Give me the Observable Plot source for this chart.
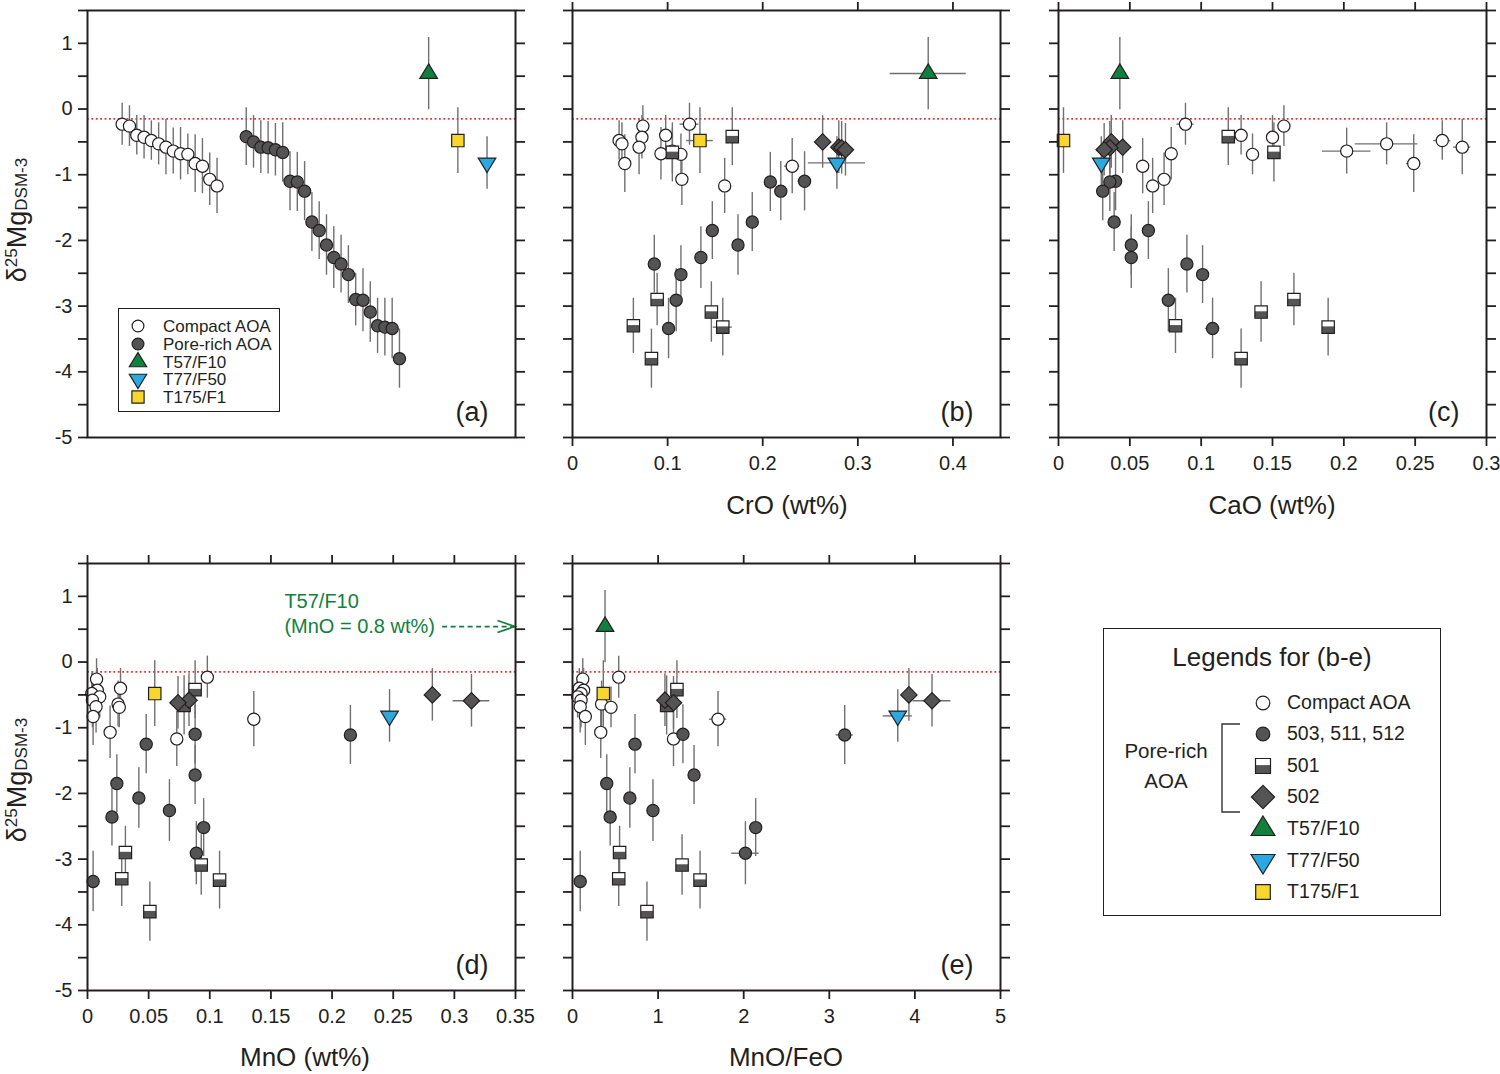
<!DOCTYPE html>
<html><head><meta charset="utf-8">
<script src="https://cdn.jsdelivr.net/npm/d3@7"></script>
<script src="https://cdn.jsdelivr.net/npm/@observablehq/plot@0.6"></script>
<style>
body{margin:0;background:#fff;font-family:"Liberation Sans",Arial,sans-serif;color:#231f20;}
#root{position:relative;width:1500px;height:1074px;overflow:hidden;background:#fff;}
.lab{position:absolute;white-space:nowrap;transform:translate(-50%,-50%);font-size:26px;line-height:1;}
.ylab{position:absolute;white-space:nowrap;transform:translate(-50%,-50%) rotate(-90deg);font-size:27px;line-height:1;}
.ylab sup{font-size:17px;vertical-align:0.55em;}
.ylab sub{font-size:17px;vertical-align:-0.05em;}
.box{position:absolute;border:1.5px solid #231f20;background:#fff;box-sizing:border-box;}
.row{position:absolute;white-space:nowrap;line-height:1;transform:translateY(-50%);}
.ico{position:absolute;overflow:visible;}
</style>
</head><body><div id="root"></div>
<script>
// ---------------- data ----------------
// columns: [δ25Mg, ±2SD, CrO, ±, CaO, ±, MnO, ±, MnO/FeO, ±]
const compactAOA = [
  [-0.23,0.32, 0.123,0.010, 0.089,0.006, 0.098,0, 0.54,0],
  [-0.26,0.31, 0.074,0,     0.158,0,     0.0074,0,0.12,0],
  [-0.40,0.30, 0.098,0,     0.128,0,     0.027,0, 0.08,0],
  [-0.43,0.33, 0.073,0,     0.150,0,     0.008,0, 0.13,0],
  [-0.48,0.30, 0.049,0,     0.269,0.006, 0.0035,0,0.10,0],
  [-0.53,0.32, 0.052,0,     0.230,0.022, 0.010,0, 0.06,0],
  [-0.58,0.42, 0.070,0,     0.283,0.006, 0.004,0, 0.10,0],
  [-0.64,0.35, 0.105,0,     0.202,0.017, 0.025,0, 0.34,0],
  [-0.68,0.40, 0.093,0,     0.079,0,     0.007,0, 0.09,0],
  [-0.69,0.31, 0.114,0,     0.136,0,     0.026,0, 0.45,0],
  [-0.83,0.44, 0.055,0,     0.249,0.005, 0.0046,0,0.15,0],
  [-0.87,0.42, 0.231,0.008, 0.059,0,     0.136,0, 1.70,0.10],
  [-1.07,0.40, 0.115,0,     0.074,0,     0.0185,0,0.33,0],
  [-1.17,0.42, 0.160,0,     0.066,0,     0.073,0, 1.18,0]
];
const poreRich503_511_512 = [
  [-1.10,0.45, 0.244,0.007, 0.040,0,     0.088,0, 1.29,0],
  [-1.11,0.45, 0.208,0,     0.036,0,     0.215,0, 3.18,0.10],
  [-1.25,0.45, 0.219,0,     0.031,0,     0.048,0, 0.73,0],
  [-1.72,0.45, 0.189,0,     0.039,0,     0.088,0, 1.42,0],
  [-1.85,0.44, 0.147,0,     0.063,0,     0.024,0, 0.40,0],
  [-2.07,0.46, 0.174,0,     0.051,0,     0.042,0, 0.67,0],
  [-2.26,0.47, 0.135,0,     0.051,0,     0.067,0, 0.94,0],
  [-2.36,0.44, 0.086,0,     0.090,0,     0.020,0, 0.44,0],
  [-2.52,0.44, 0.114,0,     0.101,0,     0.095,0, 2.14,0],
  [-2.91,0.48, 0.109,0,     0.077,0,     0.089,0, 2.02,0.16],
  [-3.34,0.46, 0.101,0,     0.108,0.005, 0.0046,0,0.09,0]
];
const poreRich501 = [
  [-0.42,0.44, 0.168,0,     0.119,0,     0.088,0, 1.22,0],
  [-0.66,0.45, 0.105,0.010, 0.151,0,     0.079,0, 1.10,0],
  [-2.90,0.40, 0.089,0,     0.165,0,     0.031,0, 0.55,0],
  [-3.09,0.46, 0.146,0,     0.142,0,     0.093,0, 1.28,0],
  [-3.30,0.42, 0.064,0,     0.082,0,     0.028,0, 0.54,0],
  [-3.32,0.44, 0.158,0.010, 0.189,0,     0.108,0, 1.49,0],
  [-3.80,0.45, 0.083,0,     0.128,0,     0.051,0, 0.87,0]
];
const poreRich502 = [
  [-0.50,0.40, 0.263,0,     0.037,0,     0.282,0,     3.93,0],
  [-0.58,0.40, 0.280,0,     0.045,0,     0.083,0,     1.08,0],
  [-0.59,0.40, 0.283,0,     0.036,0,     0.314,0.015, 4.20,0.22],
  [-0.62,0.40, 0.287,0,     0.032,0,     0.074,0,     1.18,0]
];
const T57F10  = [[0.54,0.55, 0.374,0.040, 0.043,0, 0.8,0,   0.38,0]];
const T77F50  = [[-0.82,0.40,0.278,0.030, 0.030,0, 0.247,0, 3.80,0.17]];
const T175F1  = [[-0.48,0.50,0.134,0.014, 0.0035,0,0.055,0, 0.36,0]];

const refValue = -0.15;                 // red dotted reference line
const yTicks = d3.range(-5, 1.51, 0.5);
const xTicksCrO = [0, 0.1, 0.2, 0.3, 0.4];
const xTicksCaO = [0, 0.05, 0.1, 0.15, 0.2, 0.25, 0.3];
const xTicksMnO = [0, 0.05, 0.1, 0.15, 0.2, 0.25, 0.3, 0.35];
const xTicksRatio = [0, 1, 2, 3, 4, 5];

// ---------------- helpers ----------------
const INK = "#231f20", DARK = "#545454", BAR = "#707070";
const GREEN = "#12803d", BLUE = "#2aa8e0", YELLOW = "#f9d62e";
const toRows = arr => arr.map(a => ({d:a[0], e:a[1], cr:a[2], crE:a[3], ca:a[4], caE:a[5], mn:a[6], mnE:a[7], rt:a[8], rtE:a[9]}));
const C = toRows(compactAOA), P = toRows(poreRich503_511_512), S = toRows(poreRich501), D = toRows(poreRich502);
const T1 = toRows(T57F10), T2 = toRows(T77F50), T3 = toRows(T175F1);

const shapes = {
  circle: (c, r) => { c.moveTo(r, 0); c.arc(0, 0, r, 0, 2 * Math.PI); c.closePath(); },
  square: (c, r) => { c.rect(-r, -r, 2 * r, 2 * r); },
  lowerHalf: (c, r) => { c.rect(-r, -0.12 * r, 2 * r, 1.12 * r); },
  diamond: (c, r) => { const s = 1.32 * r; c.moveTo(0, -s); c.lineTo(s, 0); c.lineTo(0, s); c.lineTo(-s, 0); c.closePath(); },
  triUp: (c, r) => { const w = 1.42 * r, h = 2.33 * r; c.moveTo(0, -2 * h / 3); c.lineTo(w, h / 3); c.lineTo(-w, h / 3); c.closePath(); },
  triDown: (c, r) => { const w = 1.42 * r, h = 2.33 * r; c.moveTo(0, 2 * h / 3); c.lineTo(w, -h / 3); c.lineTo(-w, -h / 3); c.closePath(); },
  chevron: (c, r) => { c.moveTo(-2.9 * r, -r); c.lineTo(0, 0); c.lineTo(-2.9 * r, r); }
};
const MR = 6.2;
const sym = {};
for (const [n, f] of Object.entries(shapes)) sym[n] = {draw(c) { f(c, n === "circle" ? 6.1 : MR); }};

function markers(data, kind, x) {
  const b = {x, y: "d", r: MR};
  const st = {stroke: INK, strokeWidth: 1.2};
  switch (kind) {
    case "compact": return [Plot.dot(data, {...b, symbol: sym.circle, fill: "white", ...st})];
    case "pore": return [Plot.dot(data, {...b, symbol: sym.circle, fill: DARK, ...st})];
    case "501": return [
      Plot.dot(data, {...b, symbol: sym.square, fill: "white"}),
      Plot.dot(data, {...b, symbol: sym.lowerHalf, fill: DARK}),
      Plot.dot(data, {...b, symbol: sym.square, fill: "none", ...st})];
    case "502": return [Plot.dot(data, {...b, symbol: sym.diamond, fill: DARK, ...st})];
    case "t57": return [Plot.dot(data, {...b, symbol: sym.triUp, fill: GREEN, ...st})];
    case "t77": return [Plot.dot(data, {...b, symbol: sym.triDown, fill: BLUE, ...st})];
    case "t175": return [Plot.dot(data, {...b, symbol: sym.square, fill: YELLOW, ...st})];
  }
}

const root = document.getElementById("root");
const FW = 428, FH = 427, ML = 72, MT = 12, MRg = 16, MB = 46;

function panel(o) {
  const key = o.key, ek = o.key + "E";
  const all = o.layers.flatMap(l => l[0]);
  const marks = [
    Plot.ruleY([refValue], {stroke: "#e8312f", strokeWidth: 1.6, strokeDasharray: "1.8,2.6"}),
    Plot.ruleX(all, {x: key, y1: d => d.d - d.e, y2: d => d.d + d.e, stroke: BAR, strokeWidth: 1.4}),
    Plot.ruleY(all.filter(d => d[ek] > 0), {y: "d", x1: d => d[key] - d[ek], x2: d => d[key] + d[ek], stroke: BAR, strokeWidth: 1.4}),
    ...o.layers.flatMap(([data, kind]) => markers(data, kind, key)),
    ...(o.extra || []),
    Plot.axisY({anchor: "left", ticks: yTicks, tickSize: 9, tickPadding: 6, strokeWidth: 1.8, fontSize: 20,
      tickFormat: o.yLabels ? (d => Number.isInteger(d) ? String(d) : "") : (() => ""), label: null}),
    Plot.axisY({anchor: "right", ticks: yTicks, tickSize: 9, strokeWidth: 1.8, tickFormat: () => "", label: null}),
    ...(o.xTicks ? [
      Plot.axisX({anchor: "bottom", ticks: o.xTicks, tickSize: 9, tickPadding: 9, strokeWidth: 1.8, fontSize: 20, tickFormat: d => String(d), label: null}),
      Plot.axisX({anchor: "top", ticks: o.xTicks, tickSize: 9, strokeWidth: 1.8, tickFormat: () => "", label: null})
    ] : []),
    Plot.frame({stroke: INK, strokeWidth: 2}),
    Plot.text([o.tag], {frameAnchor: "bottom-right", text: d => d, dx: -27, dy: -17, fontSize: 27, textAnchor: "end", lineAnchor: "bottom"})
  ];
  const chart = Plot.plot({
    width: FW + ML + MRg, height: FH + MT + MB,
    marginLeft: ML, marginTop: MT, marginRight: MRg, marginBottom: MB,
    x: {domain: o.xDomain, ...(o.xTicks ? {} : {axis: null})},
    y: {domain: [-5, 1.5]},
    style: `background: transparent; overflow: visible; color: ${INK}; font-family: 'Liberation Sans', Arial, sans-serif; font-size: 20px;`,
    marks
  });
  chart.style.position = "absolute";
  chart.style.left = (o.left - ML) + "px";
  chart.style.top = (o.top - MT) + "px";
  root.appendChild(chart);
}

// panel (a): samples ordered by decreasing δ25Mg within each group
const sortDesc = arr => arr.slice().sort((a, b) => b.d - a.d);
const aCompact = sortDesc(C).map((d, i) => ({...d, idx: 1 + i}));
const aPore = sortDesc([...P, ...S, ...D]).map((d, i) => ({...d, idx: aCompact.length + 4 + i}));
const lastPore = aCompact.length + 4 + aPore.length - 1;
const aT57 = T1.map(d => ({...d, idx: lastPore + 4}));
const aT175 = T3.map(d => ({...d, idx: lastPore + 8}));
const aT77 = T2.map(d => ({...d, idx: lastPore + 12}));

panel({left: 87, top: 10, key: "idx", xDomain: [-3.75, 54.9], yLabels: true, tag: "(a)",
  layers: [[aCompact, "compact"], [aPore, "pore"], [aT175, "t175"], [aT77, "t77"], [aT57, "t57"]]});

const bcdeLayers = k => [[C, "compact"], [P, "pore"], [S, "501"], [D, "502"],
  [T3, "t175"], [T2, "t77"], [T1.filter(k), "t57"]];

panel({left: 572, top: 10, key: "cr", xDomain: [0, 0.45], xTicks: xTicksCrO, tag: "(b)", layers: bcdeLayers(() => true)});
panel({left: 1058, top: 10, key: "ca", xDomain: [0, 0.3], xTicks: xTicksCaO, tag: "(c)", layers: bcdeLayers(() => true)});

// (d): T57/F10 lies off-scale (MnO = 0.8 wt%) → annotated with a dashed arrow
const mnMax = 0.35;
const t57y = T57F10[0][0], t57mn = T57F10[0][6];
const annot = [
  Plot.text(["T57/F10"], {x: 0.161, y: t57y, dy: -25, text: d => d, textAnchor: "start", fill: GREEN, fontSize: 20}),
  Plot.text([`(MnO = ${t57mn} wt%)`], {x: 0.161, y: t57y, text: d => d, textAnchor: "start", fill: GREEN, fontSize: 20}),
  Plot.link([0], {x1: 0.290, x2: 0.349, y1: t57y, y2: t57y, stroke: GREEN, strokeWidth: 1.7, strokeDasharray: "5,3.5"}),
  Plot.dot([0], {x: 0.3495, y: t57y, r: 1, symbol: {draw(c) { shapes.chevron(c, 6); }}, fill: "none", stroke: GREEN, strokeWidth: 1.7})
];
panel({left: 87, top: 563, key: "mn", xDomain: [0, mnMax], xTicks: xTicksMnO, yLabels: true, tag: "(d)",
  layers: bcdeLayers(d => d.mn <= mnMax), extra: annot});
panel({left: 572, top: 563, key: "rt", xDomain: [0, 5], xTicks: xTicksRatio, tag: "(e)", layers: bcdeLayers(() => true)});

// ---------------- axis titles ----------------
function addDiv(cls, html, x, y, extra) {
  const el = document.createElement("div");
  el.className = cls; el.innerHTML = html;
  el.style.left = x + "px"; el.style.top = y + "px";
  if (extra) Object.assign(el.style, extra);
  root.appendChild(el); return el;
}
const yTitle = "δ<sup>25</sup>Mg<sub>DSM-3</sub>";
addDiv("ylab", yTitle, 17, 220);
addDiv("ylab", yTitle, 17, 780);
addDiv("lab", "CrO (wt%)", 787, 505);
addDiv("lab", "CaO (wt%)", 1272, 505);
addDiv("lab", "MnO (wt%)", 305, 1057);
addDiv("lab", "MnO/FeO", 786, 1057);

// ---------------- legends ----------------
function icon(kind, r, cx, cy) {
  const p = k => { const c = d3.path(); shapes[k](c, r); return c.toString(); };
  const sw = 1.2;
  let inner = "";
  if (kind === "compact") inner = `<path d="${p("circle")}" fill="white" stroke="${INK}" stroke-width="${sw}"/>`;
  if (kind === "pore") inner = `<path d="${p("circle")}" fill="${DARK}" stroke="${INK}" stroke-width="${sw}"/>`;
  if (kind === "501") inner = `<path d="${p("square")}" fill="white"/><path d="${p("lowerHalf")}" fill="${DARK}"/><path d="${p("square")}" fill="none" stroke="${INK}" stroke-width="${sw}"/>`;
  if (kind === "502") inner = `<path d="${p("diamond")}" fill="${DARK}" stroke="${INK}" stroke-width="${sw}"/>`;
  if (kind === "t57") inner = `<path d="${p("triUp")}" fill="${GREEN}" stroke="${INK}" stroke-width="${sw}"/>`;
  if (kind === "t77") inner = `<path d="${p("triDown")}" fill="${BLUE}" stroke="${INK}" stroke-width="${sw}"/>`;
  if (kind === "t175") inner = `<path d="${p("square")}" fill="${YELLOW}" stroke="${INK}" stroke-width="${sw}"/>`;
  const s = 40;
  const el = document.createElementNS("http://www.w3.org/2000/svg", "svg");
  el.setAttribute("width", s); el.setAttribute("height", s);
  el.setAttribute("viewBox", `${-s/2} ${-s/2} ${s} ${s}`);
  el.setAttribute("class", "ico");
  el.style.left = (cx - s / 2) + "px"; el.style.top = (cy - s / 2) + "px";
  el.innerHTML = inner;
  root.appendChild(el);
}

// legend inside (a)
const legendA = [["compact", "Compact AOA"], ["pore", "Pore-rich AOA"], ["t57", "T57/F10"], ["t77", "T77/F50"], ["t175", "T175/F1"]];
addDiv("box", "", 118, 308, {width: "162px", height: "104px"});
legendA.forEach(([k, t], i) => {
  const cy = 326 + i * 17.8;
  icon(k, k === "compact" || k === "pore" ? 5.9 : 6.1, 138, cy);
  addDiv("row", t, 163, cy, {fontSize: "17px"});
});

// legend for (b-e)
addDiv("box", "", 1103, 628, {width: "338px", height: "288px"});
addDiv("lab", "Legends for (b-e)", 1272, 657, {fontSize: "26px"});
const legendB = [["compact", "Compact AOA"], ["pore", "503, 511, 512"], ["501", "501"], ["502", "502"],
  ["t57", "T57/F10"], ["t77", "T77/F50"], ["t175", "T175/F1"]];
const legRowY = [703, 734, 766, 797, 829, 861, 892];
const legR = {compact: 6.8, pore: 6.8, "501": 7.5, "502": 8.8, t57: 8.4, t77: 8.4, t175: 7.3};
legendB.forEach(([k, t], i) => {
  icon(k, legR[k], 1263, legRowY[i]);
  addDiv("row", t, 1287, legRowY[i], {fontSize: "19.5px"});
});
addDiv("lab", "Pore-rich<br>AOA", 1166, 766, {fontSize: "20.5px", textAlign: "center", lineHeight: "30px"});
const br = document.createElementNS("http://www.w3.org/2000/svg", "svg");
br.setAttribute("width", 40); br.setAttribute("height", 100);
br.setAttribute("class", "ico"); br.style.left = "1215px"; br.style.top = "718px";
br.innerHTML = `<path d="M25,6 H7 V94 H25" fill="none" stroke="#333" stroke-width="1.4"/>`;
root.appendChild(br);
</script>
</body></html>
